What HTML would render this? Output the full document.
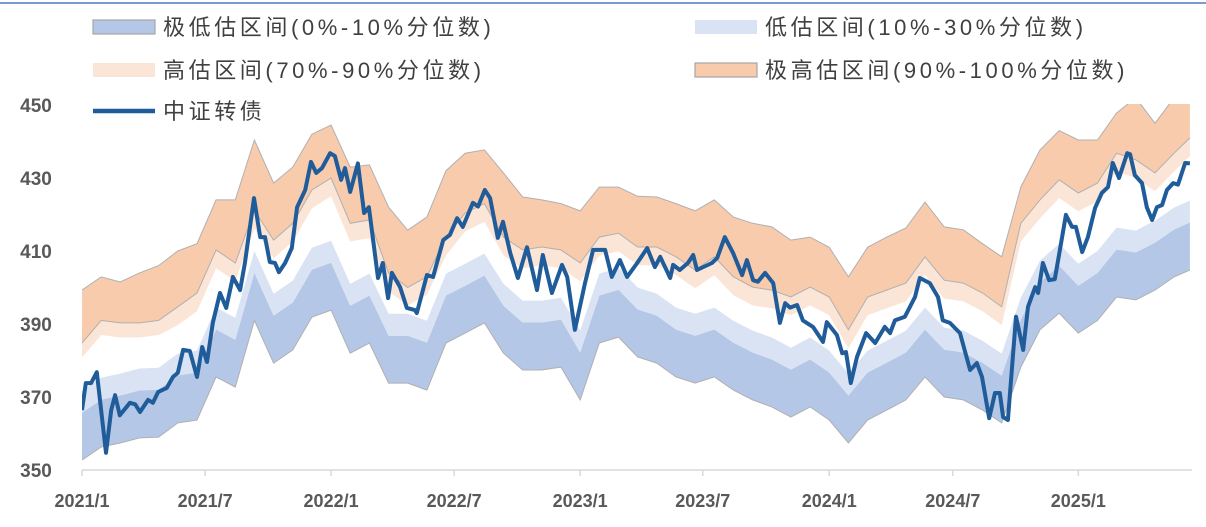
<!DOCTYPE html>
<html><head><meta charset="utf-8">
<style>
html,body{margin:0;padding:0;background:#fff;}
body{width:1206px;height:522px;overflow:hidden;font-family:"Liberation Sans","Noto Sans CJK SC",sans-serif;}
</style></head>
<body>
<svg id="chart" width="1206" height="522" viewBox="0 0 1206 522" xmlns="http://www.w3.org/2000/svg">
<line x1="0" y1="3" x2="1206" y2="3" stroke="#7b9bd0" stroke-width="2"/>
<defs><clipPath id="plotclip"><rect x="82" y="104" width="1110" height="370"/></clipPath></defs>
<g id="bands" clip-path="url(#plotclip)"></g>
<g id="axes"></g>
<g id="series" clip-path="url(#plotclip)"></g>
<g id="legend" font-size="22" fill="#404040" letter-spacing="3.6">
  <g>
    <rect x="93" y="20" width="62" height="14" fill="#b4c7e7" stroke="#a6a6a6" stroke-width="1.2"/>
    <text x="163" y="35">极低估区间(0%-10%分位数)</text>
  </g>
  <g>
    <rect x="695" y="20" width="62" height="14" fill="#dae3f3"/>
    <text x="765" y="35">低估区间(10%-30%分位数)</text>
  </g>
  <g>
    <rect x="93" y="63" width="62" height="14" fill="#fbe5d6"/>
    <text x="163" y="78">高估区间(70%-90%分位数)</text>
  </g>
  <g>
    <rect x="695" y="63" width="62" height="14" fill="#f8cbad" stroke="#a6a6a6" stroke-width="1.2"/>
    <text x="765" y="78">极高估区间(90%-100%分位数)</text>
  </g>
  <g>
    <line x1="93" y1="111" x2="155" y2="111" stroke="#1f5c99" stroke-width="4.5"/>
    <text x="163" y="119">中证转债</text>
  </g>
</g>
</svg>
<script>
const bandWeeks=[0,4,8,12,16,20,24,28,32,36,40,44,48,52,56,60,64,68,72,76,80,84,88,92,96,100,104,108,112,116,120,124,128,132,136,140,144,148,152,156,160,164,168,172,176,180,184,188,192,196,200,204,208,212,216,220,224,228,231.3];
const p0=[352.7,356.3,357.4,358.8,359,362.9,363.7,375.5,372.7,391,379.3,382.9,391.9,393.8,382,384.8,373.8,373.8,371.9,384.8,387.5,390.3,382,377.4,377.4,378.2,369.2,384.8,386.4,381,379.3,375.5,373.8,375.5,371.9,369.2,367.3,364.5,367.3,363.7,357.4,363.7,366.4,369.2,375.5,370,369.2,366.4,362.9,378.2,388.4,393,387.5,391,397.4,396.6,399.3,402.9,404.8];
const p10=[365.7,369.3,370.4,371.8,372,375.9,376.7,388.5,385.7,404,392.3,395.9,404.9,406.8,395,397.8,386.8,386.8,384.9,397.8,400.5,403.3,395,390.4,390.4,391.2,382.2,397.8,399.4,394,392.3,388.5,386.8,388.5,384.9,382.2,380.3,377.5,380.3,376.7,370.4,376.7,379.4,382.2,388.5,383,382.2,379.4,375.9,391.2,401.4,406,400.5,404,410.4,409.6,412.3,415.9,417.8];
const p30=[371.7,375.3,376.4,377.8,378,381.9,382.7,394.5,391.7,410,398.3,401.9,410.9,412.8,401,403.8,392.8,392.8,390.9,403.8,406.5,409.3,401,396.4,396.4,397.2,388.2,403.8,405.4,400,398.3,394.5,392.8,394.5,390.9,388.2,386.3,383.5,386.3,382.7,376.4,382.7,385.4,388.2,394.5,389,388.2,385.4,381.9,397.2,407.4,412,406.5,410,416.4,415.6,418.3,421.9,423.8];
const p70=[380.8,387,386.3,386.3,387,389.7,393.5,405.3,401.7,416.2,408,412.6,421.7,425,412.6,413.5,399,395,398,408.8,415.4,418,408.8,405.3,406.1,405.3,401.7,408.8,409.9,406.1,406.1,403.4,399.8,403.4,397.9,395.1,394.3,392.4,395.1,392.4,383.4,392.4,394.3,396.2,403.4,397,396.2,393.5,389.7,412.6,419,424.5,420.9,423.6,431.8,430,426.4,431.8,436];
const p90=[384.8,391,390.3,390.3,391,394.7,398.5,410.3,406.7,421.2,413,417.6,426.7,430,417.6,418.5,404,400,403,413.8,420.4,423,413.8,410.3,411.1,410.3,406.7,413.8,414.9,411.1,411.1,408.4,404.8,408.4,402.9,400.1,399.3,397.4,400.1,397.4,388.4,397.4,399.3,401.2,408.4,402,401.2,398.5,394.7,417.6,424,429.5,425.9,428.6,436.8,435,431.4,436.8,441];
const p100=[399.3,402.9,401.5,404,406,410,412,424,424,440.4,428.6,433,442,444.5,433,433.6,422,415.7,419.3,432,436.8,437.7,431.4,424.8,424,423,421,427.5,427.5,425,424.8,423,421,424,419.3,417.6,416.6,413,413.8,411,402.9,411,413.8,416.3,423.4,416.6,415.8,412,408.4,427.5,437.7,443,440.4,440.4,447.8,452,445,452,452];
const lineWeeks=[0,0.8,1.9,3.1,5,6.1,6.9,7.9,10,11.1,12.1,13.8,14.8,15.9,17.7,19,20,21.1,22.5,24,25.1,26.1,27.3,28.8,30.1,31.5,33,34,35.9,37.2,38.2,39.2,40.3,41.1,42.4,43.8,44.9,46.6,47.8,48.9,50.1,51.8,52.8,54.1,54.9,56,57.6,58.9,59.9,61.8,62.8,63.9,64.7,66.4,67.8,69.5,69.9,72,73.3,75.4,76.8,78.3,79.5,81.6,82.7,84.1,85.2,86.8,87.9,89.4,91,92.9,95,96.2,98.1,100.2,101.3,102.9,105,106.7,109.2,110.6,112.3,113.8,115.9,118,119.6,120.7,122.8,123.4,124.8,126.5,127.6,128.4,131.5,132.6,134.2,135.9,137.8,138.8,140.1,141.1,142.6,144.3,145.7,146.8,147.8,149.3,150.5,152.6,154.7,155.5,157.6,158.7,159.5,160.5,161.8,163.7,165.6,167.6,168.7,169.7,171.8,173.9,174.9,177,178.7,179.7,181.2,183.3,185.4,186.8,187.9,189.4,190.6,191.6,192.3,193.3,195,196.5,197.5,199,199.6,200.6,201.9,203.1,204.4,205.4,206.7,207.5,208.8,210,211.5,212.9,214.2,215.2,216.5,218.2,218.8,219.8,221.3,222.3,223.4,224.4,225.5,226.5,227.8,228.8,230.3,231.3];
const lineValues=[366.4,373.8,373.8,376.8,354.7,366.4,370.5,365,368.4,368,365.9,369.2,368.4,371.4,372.5,375.5,376.6,382.9,382.6,375.5,383.7,379.6,390.3,398.5,394.4,402.9,399.3,406.7,424.5,413.8,413.8,407,406.7,404.2,406.7,410.8,422,426.7,434.4,431.4,432.7,436.8,436,429.5,432.7,426.2,434,420.4,422,402.6,406.7,397.1,404,400.1,394.4,393.8,393,403.4,402.9,413,414.4,419,416.6,423.2,422.2,426.7,424.5,413.6,418,409.5,402.6,411,399.3,408.9,398.5,406.2,402.9,388.4,401.2,410.3,410.3,402.9,407.5,402.9,406.7,410.8,405.6,408.4,402.6,406.2,404.8,406.7,408.9,404.8,406.7,408.1,413.8,409.5,403.4,407.5,402,401.6,404,401.2,390.3,395.7,394.5,395.2,391,389.2,385.1,390.5,387,382,382.3,373.8,381,387.5,384.8,389.2,387.5,391,392,397.4,402.6,401.2,397.4,391,390.3,387.5,377.4,379.3,375.5,364.2,371.1,371.1,364.5,363.7,392,382.9,394.7,400.1,398.5,406.7,402,402.3,412.2,419.9,416.6,416.6,409.7,413.8,421.8,425.9,427.5,434.1,430,436.8,436.5,430.8,428.6,422,418.5,422,422.6,426.7,428.6,428.2,434.1,434];
const yTicks=[350,370,390,410,430,450];
const xTickWeeks=[0,25.7,52,77.7,104,129.6,156,181.8,208];
const xTickLabels=["2021/1","2021/7","2022/1","2022/7","2023/1","2023/7","2024/1","2024/7","2025/1"];

const NS="http://www.w3.org/2000/svg";
const X0=82,PXW=4.79,Y0=470,PXV=3.65;
function xs(w){return X0+w*PXW;}
function ys(v){return Y0-(v-350)*PXV;}
function mk(tag,attrs,parent){const e=document.createElementNS(NS,tag);for(const k in attrs)e.setAttribute(k,attrs[k]);parent.appendChild(e);return e;}

const bandsG=document.getElementById('bands');
const bands=[[p0,p10,'#b4c7e7','band-very-low'],[p10,p30,'#dae3f3','band-low'],[p70,p90,'#fbe5d6','band-high'],[p90,p100,'#f8cbad','band-very-high']];
bands.forEach(b=>{
  let d='';
  bandWeeks.forEach((w,i)=>{d+=(i?'L':'M')+xs(w).toFixed(1)+','+ys(b[1][i]).toFixed(1);});
  for(let i=bandWeeks.length-1;i>=0;i--)d+='L'+xs(bandWeeks[i]).toFixed(1)+','+ys(b[0][i]).toFixed(1);
  d+='Z';
  const p=mk('path',{d:d,fill:b[2],stroke:'none'},bandsG);
  
  
});
[p0,p90,p100].forEach((arr,j)=>{
  let d='';
  bandWeeks.forEach((w,i)=>{d+=(i?'L':'M')+xs(w).toFixed(1)+','+ys(arr[i]).toFixed(1);});
  const p=mk('path',{d:d,fill:'none',stroke:'#b0b0b0','stroke-width':1},bandsG);
  
  
});

const axesG=document.getElementById('axes');
const ax=mk('line',{x1:X0,y1:Y0,x2:1192,y2:Y0,stroke:'#d9d9d9','stroke-width':1.5},axesG);


yTicks.forEach(v=>{
  const t=mk('text',{x:36,y:ys(v)+7,'text-anchor':'middle','font-size':19,'font-weight':'bold',fill:'#595959'},axesG);
  t.textContent=v;
  
  
});
xTickWeeks.forEach((w,i)=>{
  const l=mk('line',{x1:xs(w),y1:Y0,x2:xs(w),y2:Y0+6,stroke:'#d9d9d9','stroke-width':1.5},axesG);
  
  
  const t=mk('text',{x:xs(w),y:507,'text-anchor':'middle','font-size':18,'font-weight':'bold',fill:'#595959'},axesG);
  t.textContent=xTickLabels[i];
  
  
});

const seriesG=document.getElementById('series');
let d='';
lineWeeks.forEach((w,i)=>{d+=(i?'L':'M')+xs(w).toFixed(1)+','+ys(lineValues[i]).toFixed(1);});
const ln=mk('path',{d:d,fill:'none',stroke:'#1f5c99','stroke-width':4,'stroke-linejoin':'round'},seriesG);


</script>
</body></html>
